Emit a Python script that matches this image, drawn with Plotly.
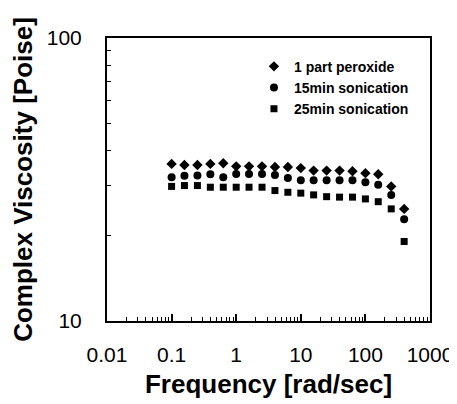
import plotly.graph_objects as go

freq = [0.1, 0.158, 0.251, 0.398, 0.631, 1.0, 1.58, 2.51, 3.98, 6.31,
        10.0, 15.8, 25.1, 39.8, 63.1, 100.0, 158.0, 251.0, 398.0]

peroxide = [35.9, 35.6, 35.6, 35.9, 36.1, 35.2, 35.2, 35.2, 35.0, 35.0,
            34.7, 34.0, 34.0, 34.0, 33.8, 33.3, 33.0, 29.9, 24.9]
son15 = [32.2, 32.6, 32.7, 33.0, 32.2, 33.1, 33.1, 33.1, 32.8, 32.0,
         31.4, 31.4, 31.4, 31.4, 31.4, 30.9, 30.3, 27.9, 22.9]
son25 = [29.9, 30.1, 30.1, 29.7, 29.7, 29.7, 29.7, 29.7, 28.9, 28.5,
         28.3, 27.9, 27.5, 27.4, 27.4, 27.0, 26.4, 24.9, 19.1]

series = [
    ("1 part peroxide", peroxide, "diamond", 8),
    ("15min sonication", son15, "circle", 8),
    ("25min sonication", son25, "square", 7),
]

fig = go.Figure()
for name, vals, sym, sz in series:
    fig.add_trace(go.Scatter(
        x=freq, y=vals, mode="markers", name=name,
        marker=dict(symbol=sym, size=sz, color="black"),
    ))

font = "Liberation Sans, Arial, sans-serif"
axis_common = dict(
    type="log", showgrid=False, zeroline=False,
    showline=True, linecolor="black", linewidth=2, mirror=True,
    ticks="inside", ticklen=7, tickwidth=1.5, tickcolor="black",
    tickfont=dict(family=font, size=21, color="black"),
)

fig.update_layout(
    width=457, height=404,
    margin=dict(l=99, r=33, t=30, b=91),
    paper_bgcolor="white", plot_bgcolor="white",
    showlegend=True,
    legend=dict(
        x=0.455, y=0.955, xanchor="left", yanchor="top",
        font=dict(family=font, size=14, color="black", weight="bold"),
        bgcolor="rgba(0,0,0,0)", itemwidth=30, tracegroupgap=0,
    ),
    xaxis=dict(
        **axis_common,
        range=[-2, 3],
        tickvals=[0.01, 0.1, 1, 10, 100, 1000],
        ticktext=["0.01", "0.1", "1", "10", "100", "1000"],
        ticklabelstandoff=14,
        minor=dict(ticks="inside", ticklen=4, tickwidth=1, tickcolor="black",
                   tickvals=[m * 10 ** e for e in range(-2, 3) for m in range(2, 10)]),
        title=dict(text="Frequency [rad/sec]", standoff=10,
                   font=dict(family=font, size=26, color="black", weight="bold")),
    ),
    yaxis=dict(
        **axis_common,
        range=[1, 2],
        tickvals=[10, 100],
        ticktext=["10", "100"],
        ticklabelstandoff=19,
        minor=dict(ticks="inside", ticklen=4, tickwidth=1, tickcolor="black",
                   tickvals=[m * 10 for m in range(2, 10)]),
        title=dict(text="Complex Viscosity [Poise]", standoff=7,
                   font=dict(family=font, size=26, color="black", weight="bold")),
    ),
)

fig.write_html("out.html")
